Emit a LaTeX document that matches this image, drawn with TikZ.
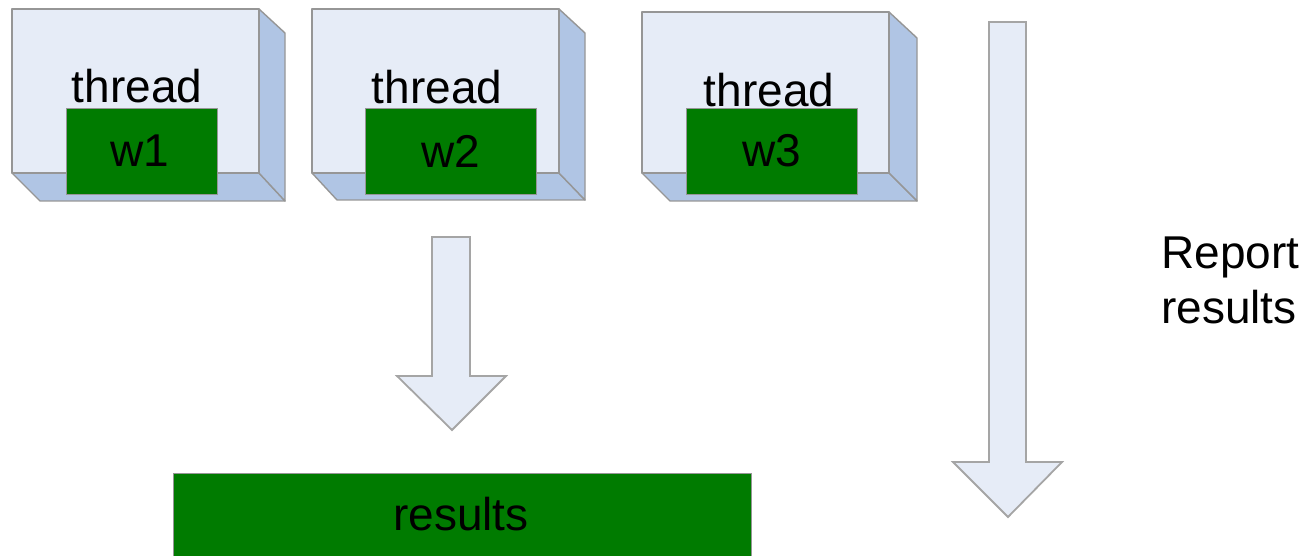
\documentclass[tikz,border=0pt]{standalone}
\usepackage{fontspec}
\setmainfont{Liberation Sans}
\definecolor{facecol}{RGB}{230,236,247}
\definecolor{sidecol}{RGB}{176,197,228}
\definecolor{edgecol}{RGB}{150,150,150}
\definecolor{arrowedge}{RGB}{165,165,165}
\definecolor{wgreen}{RGB}{0,123,0}
\begin{document}
\begin{tikzpicture}[x=1pt,y=-1pt,
  front/.style={fill=facecol,draw=edgecol,line width=1.4pt,line join=round},
  side/.style={fill=sidecol,draw=edgecol,line width=1.4pt,line join=round},
  wbox/.style={fill=wgreen,draw=edgecol,line width=0.8pt,inner sep=0pt,
               minimum height=86pt},
  lbl/.style={inner sep=0pt,font=\fontsize{46}{55}\selectfont},
  blockarrow/.style={fill=facecol,draw=arrowedge,line width=1.8pt,line join=miter}]
\useasboundingbox (0,0) rectangle (1306,556);

% thread 1
\draw[side] (12,173) -- (259,173) -- (285,201) -- (40,201) -- cycle;
\draw[side] (259,9) -- (285,33) -- (285,201) -- (259,173) -- cycle;
\draw[front] (12,9) rectangle (259,173);
% thread 2
\draw[side] (312,173) -- (559,173) -- (585,200) -- (337,200) -- cycle;
\draw[side] (559,9) -- (585,33) -- (585,200) -- (559,173) -- cycle;
\draw[front] (312,9) rectangle (559,173);
% thread 3
\draw[side] (642,173) -- (889,173) -- (917,201) -- (670,201) -- cycle;
\draw[side] (889,12) -- (917,38) -- (917,201) -- (889,173) -- cycle;
\draw[front] (642,12) rectangle (889,173);

% labels of the threads
\node[lbl,anchor=base] (t1) at (137,103) {thread};
\node[lbl,anchor=base] (t2) at (437,104) {thread};
\node[lbl,anchor=base] (t3) at (769,107) {thread};

% workers
\node[wbox,minimum width=151pt] (w1) at (141.5,151) {};
\node[wbox,minimum width=171pt] (w2) at (450.5,151) {};
\node[wbox,minimum width=171pt] (w3) at (772,151) {};
\node[lbl] at ([xshift=-2pt]w1.center) {w1};
\node[lbl] at (w2.center) {w2};
\node[lbl] at (w3.center) {w3};

% block arrows
\draw[blockarrow] (432,237) -- (470,237) -- (470,376) -- (506,376) -- (452,430)
  -- (397,376) -- (432,376) -- cycle;
\draw[blockarrow] (989,22) -- (1026,22) -- (1026,462) -- (1062,462) -- (1008,517)
  -- (953,462) -- (989,462) -- cycle;

% results
\node[fill=wgreen,draw=edgecol,line width=0.8pt,inner sep=0pt,anchor=north west,
      minimum width=578pt,minimum height=100pt] (res) at (173,473) {};
\node[lbl,anchor=base] at (461,530) {results};

\node[lbl,anchor=north west,align=left] (rep) at (1161,237) {Report\\results};
\end{tikzpicture}
\end{document}
